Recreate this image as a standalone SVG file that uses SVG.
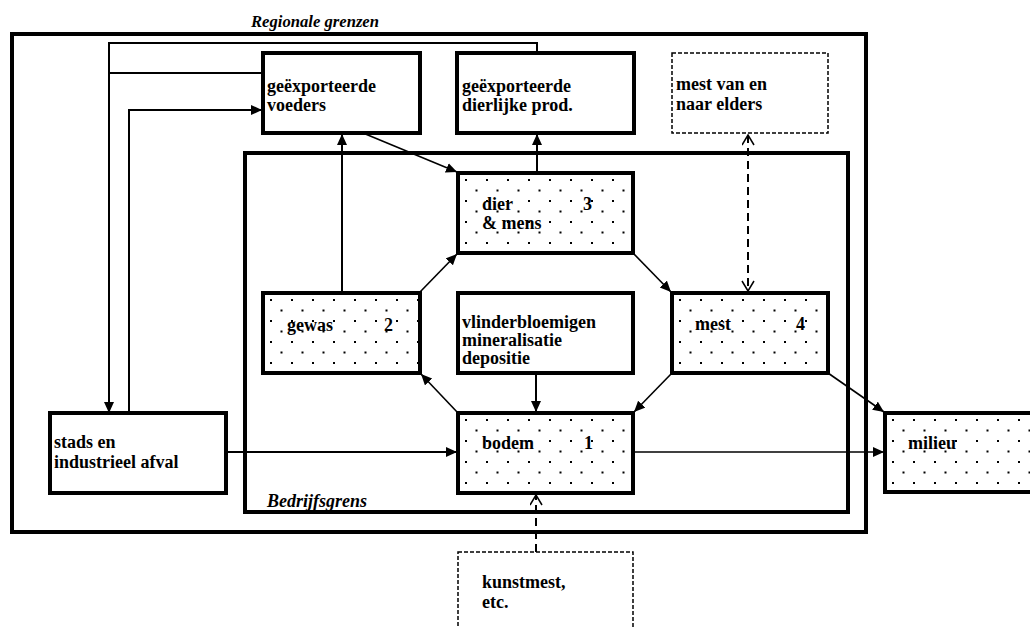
<svg xmlns="http://www.w3.org/2000/svg" width="1030" height="627" viewBox="0 0 1030 627">
<style>
.frame{fill:none;stroke:#000;stroke-width:4}
.bg{fill:#fff}
.bd{fill:none;stroke:#000;stroke-width:4}
.dots{fill:url(#dots)}
.dbox{fill:#fff;stroke:#000;stroke-width:1.5;stroke-dasharray:4 2}
.t{font-family:"Liberation Serif","Times New Roman",serif;font-weight:bold;font-size:18px;fill:#000}
.it{font-style:italic}
.c{fill:none;stroke:#000;stroke-width:1.6}
.c2{fill:none;stroke:#000;stroke-width:2}
.dl{fill:none;stroke:#000;stroke-width:2;stroke-dasharray:8 5}
</style>
<defs>
<pattern id="dots" width="21" height="21" patternUnits="userSpaceOnUse">
<rect x="7" y="6" width="2" height="2" fill="#000"/>
<rect x="17.5" y="16.5" width="2" height="2" fill="#000"/>
</pattern>
<marker id="ah" markerWidth="12" markerHeight="11" refX="11" refY="5" orient="auto" markerUnits="userSpaceOnUse">
<path d="M0,0 L11,5 L0,10 Z" fill="#000"/>
</marker>
<marker id="oa" markerWidth="13" markerHeight="14" refX="11" refY="6.5" orient="auto" markerUnits="userSpaceOnUse">
<path d="M1,0.5 L11,6.5 L1,12.5" fill="none" stroke="#000" stroke-width="1.5"/>
</marker>
<marker id="oas" markerWidth="13" markerHeight="14" refX="11" refY="6.5" orient="auto-start-reverse" markerUnits="userSpaceOnUse">
<path d="M1,0.5 L11,6.5 L1,12.5" fill="none" stroke="#000" stroke-width="1.5"/>
</marker>
</defs>

<g id="regional-boundary">
<rect class="frame" x="12" y="34" width="854" height="498"/>
<text class="t it" x="251" y="27" style="font-size:17px" textLength="128" lengthAdjust="spacingAndGlyphs">Regionale grenzen</text>
</g>
<g id="farm-boundary">
<rect class="frame" x="245" y="153" width="603" height="359"/>
<text class="t it" x="267" y="507">Bedrijfsgrens</text>
</g>

<g id="connectors">
<polyline class="c2" points="537,53 537,43 109,43 109,413" marker-end="url(#ah)"/>
<line class="c2" x1="109" y1="73" x2="263" y2="73"/>
<polyline class="c2" points="129,413 129,110 262,110" marker-end="url(#ah)"/>
<line class="c2" x1="342" y1="293" x2="342" y2="134" marker-end="url(#ah)"/>
<line class="c" x1="363" y1="133" x2="457" y2="172" marker-end="url(#ah)"/>
<line class="c2" x1="537" y1="173" x2="537" y2="134" marker-end="url(#ah)"/>
<line class="dl" x1="748" y1="135" x2="748" y2="291" marker-start="url(#oas)" marker-end="url(#oa)"/>
<line class="c" x1="420" y1="292" x2="457" y2="254" marker-end="url(#ah)"/>
<line class="c" x1="633" y1="253" x2="671" y2="292" marker-end="url(#ah)"/>
<line class="c" x1="672" y1="373" x2="634" y2="412" marker-end="url(#ah)"/>
<line class="c" x1="458" y1="413" x2="421" y2="374" marker-end="url(#ah)"/>
<line class="c2" x1="536" y1="373" x2="536" y2="412" marker-end="url(#ah)"/>
<line class="c2" x1="226" y1="452" x2="457" y2="452" marker-end="url(#ah)"/>
<line class="c" x1="633" y1="452" x2="884" y2="452" marker-end="url(#ah)"/>
<line class="c" x1="828" y1="373" x2="884" y2="412" marker-end="url(#ah)"/>
<line class="dl" x1="536" y1="552" x2="536" y2="495" marker-end="url(#oa)"/>
</g>

<g id="n-voeders">
<rect class="bg" x="263" y="53" width="157" height="80"/>
<rect class="bd" x="263" y="53" width="157" height="80"/>
<text class="t" x="267" y="92">geëxporteerde</text>
<text class="t" x="267" y="111">voeders</text>
</g>
<g id="n-dierlijke">
<rect class="bg" x="457" y="53" width="177" height="80"/>
<rect class="bd" x="457" y="53" width="177" height="80"/>
<text class="t" x="462" y="92">geëxporteerde</text>
<text class="t" x="462" y="111">dierlijke prod.</text>
</g>
<g id="n-mest-elders">
<rect class="dbox" x="672" y="53" width="156" height="80"/>
<text class="t" x="676" y="90">mest van en</text>
<text class="t" x="676" y="110">naar elders</text>
</g>

<g id="n-dier" transform="translate(458,173)">
<rect class="bg" width="175" height="80"/>
<text class="t" x="24" y="37">dier</text>
<text class="t" x="24" y="56">&amp; mens</text>
<text class="t" x="125" y="37">3</text>
<rect class="dots" width="175" height="80"/>
<rect class="bd" width="175" height="80"/>
</g>
<g id="n-gewas" transform="translate(263,293)">
<rect class="bg" width="157" height="80"/>
<text class="t" x="24" y="38">gewas</text>
<text class="t" x="121" y="38">2</text>
<rect class="dots" width="157" height="80"/>
<rect class="bd" width="157" height="80"/>
</g>
<g id="n-vlinder">
<rect class="bg" x="458" y="293" width="175" height="80"/>
<rect class="bd" x="458" y="293" width="175" height="80"/>
<text class="t" x="462" y="328">vlinderbloemigen</text>
<text class="t" x="462" y="346">mineralisatie</text>
<text class="t" x="462" y="364">depositie</text>
</g>
<g id="n-mest" transform="translate(672,293)">
<rect class="bg" width="156" height="80"/>
<text class="t" x="23" y="37">mest</text>
<text class="t" x="124" y="37">4</text>
<rect class="dots" width="156" height="80"/>
<rect class="bd" width="156" height="80"/>
</g>
<g id="n-stads">
<rect class="bg" x="50" y="413" width="176" height="80"/>
<rect class="bd" x="50" y="413" width="176" height="80"/>
<text class="t" x="54" y="448">stads en</text>
<text class="t" x="54" y="468">industrieel afval</text>
</g>
<g id="n-bodem" transform="translate(458,413)">
<rect class="bg" width="175" height="80"/>
<text class="t" x="24" y="36">bodem</text>
<text class="t" x="126" y="36">1</text>
<rect class="dots" width="175" height="80"/>
<rect class="bd" width="175" height="80"/>
</g>
<g id="n-milieu" transform="translate(885,413)">
<rect class="bg" width="200" height="79"/>
<text class="t" x="23" y="36">milieu</text>
<rect class="dots" width="200" height="79"/>
<rect class="bd" width="200" height="79"/>
</g>
<g id="n-kunstmest">
<rect class="dbox" x="458" y="552" width="175" height="90"/>
<text class="t" x="482" y="588">kunstmest,</text>
<text class="t" x="482" y="608">etc.</text>
</g>
</svg>
